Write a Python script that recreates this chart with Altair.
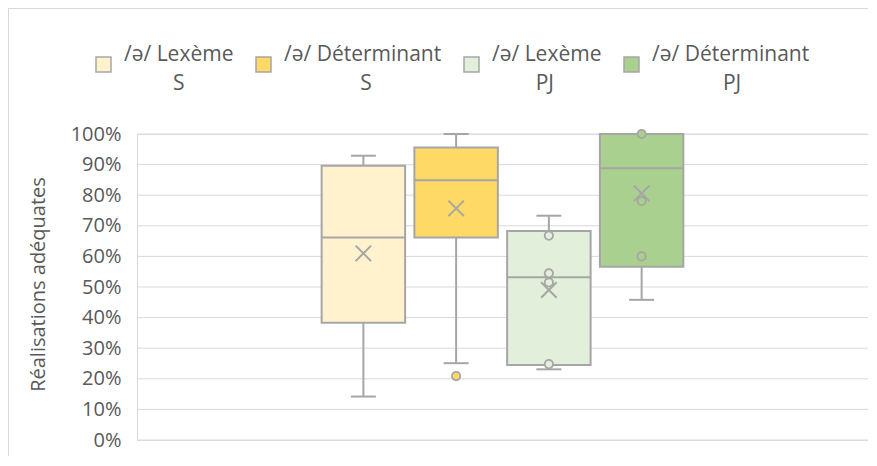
import altair as alt
import pandas as pd

# ---- data ----
series = ["/ə/ Lexème S", "/ə/ Déterminant S", "/ə/ Lexème PJ", "/ə/ Déterminant PJ"]
colors = ["#FFF2CC", "#FFD966", "#E2EFDA", "#A9D08E"]
whisker_low = [0.142, 0.251, 0.231, 0.458]
q1 = [0.383, 0.662, 0.245, 0.566]
median = [0.662, 0.849, 0.532, 0.888]
q3 = [0.896, 0.956, 0.683, 1.0]
whisker_high = [0.929, 1.0, 0.733, 1.0]
mean = [0.610, 0.757, 0.490, 0.806]
point_series = ["/ə/ Déterminant S", "/ə/ Lexème PJ", "/ə/ Lexème PJ", "/ə/ Lexème PJ",
                "/ə/ Lexème PJ", "/ə/ Déterminant PJ", "/ə/ Déterminant PJ", "/ə/ Déterminant PJ"]
point_values = [0.209, 0.668, 0.545, 0.515, 0.248, 1.0, 0.781, 0.600]
y_ticks = [0.0, 0.1, 0.2, 0.3, 0.4, 0.5, 0.6, 0.7, 0.8, 0.9, 1.0]
y_title = "Réalisations adéquates"

boxes = pd.DataFrame({
    "series": series, "lo": whisker_low, "q1": q1, "med": median,
    "q3": q3, "hi": whisker_high, "mean": mean,
})
pts = pd.DataFrame({"series": point_series, "value": point_values})
grid = pd.DataFrame({"tick": y_ticks})

GRAY = "#A6A6A6"
TEXT = "#595959"
GRID = "#D9D9D9"
FONT = "Open Sans"
W, H = 731, 306
PAD = {"left": 129, "top": 126, "right": 0, "bottom": 16}
GROUP = 371  # horizontal extent of the group of four boxes
NBSP = "\u00a0" * 20
ZWSP = "\u200b"

x_enc = alt.X("series:N", sort=series,
              scale=alt.Scale(domain=series, paddingInner=0.1, paddingOuter=0.05,
                              range=[(W - GROUP) / 2, (W + GROUP) / 2]),
              axis=None)
y_scale = alt.Scale(domain=[0, 1], nice=False)
y_axis = alt.Axis(values=y_ticks, format=".0%", grid=False,
                  domain=True, domainColor=GRID, domainWidth=1, ticks=False,
                  labelPadding=16, labelFont=FONT, labelFontSize=20, labelColor=TEXT,
                  title=y_title, titleFont=FONT, titleFontSize=20, titleColor=TEXT,
                  titleFontWeight="normal", titleAngle=270, titleX=-99, titleY=H / 2 - 3,
                  titleAlign="center", titleBaseline="middle")

# two-line legend labels: second line centred under the first with no-break spaces
sp = "lastindexof(datum.label, ' ')"
len2 = f"(length(datum.label) - {sp} - 1)"
label_expr = (
    f"[slice(datum.label, 0, {sp}), "
    f"'{ZWSP}' + slice('{NBSP}', 0, round(({sp} * 0.5 - {len2} * 0.44) / 0.52)) + "
    f"slice(datum.label, {sp} + 1)]"
)

color_enc = alt.Color(
    "series:N",
    scale=alt.Scale(domain=series, range=colors),
    legend=alt.Legend(
        title=None, orient="none", legendX=-44, legendY=-80, direction="horizontal",
        columns=4, columnPadding=19, padding=0, symbolType="square", symbolSize=225,
        symbolStrokeColor=GRAY, symbolStrokeWidth=1.5, symbolOpacity=1,
        labelFont=FONT, labelFontSize=21, labelColor=TEXT, labelOffset=10,
        labelBaseline="bottom", labelLimit=400, labelExpr=label_expr,
    ),
)

base = alt.Chart(boxes)

border_left = base.mark_rule(color=GRID, strokeWidth=1).encode(
    x=alt.value(-128.5), y=alt.value(-PAD["top"]), y2=alt.value(H + PAD["bottom"]))
border_top = base.mark_rule(color=GRID, strokeWidth=1).encode(
    y=alt.value(-PAD["top"] + 0.5), x=alt.value(-PAD["left"]), x2=alt.value(W))

gridlines = alt.Chart(grid).mark_rule(color=GRID, strokeWidth=1).encode(
    y=alt.Y("tick:Q", scale=y_scale, axis=y_axis), x=alt.value(0), x2=alt.value(W))

whisk_low = base.mark_rule(color=GRAY, strokeWidth=2).encode(
    x=x_enc, y=alt.Y("lo:Q", scale=y_scale, axis=y_axis), y2="q1:Q")
whisk_high = base.mark_rule(color=GRAY, strokeWidth=2).encode(
    x=x_enc, y=alt.Y("q3:Q", scale=y_scale, axis=y_axis), y2="hi:Q")
cap_low = base.mark_tick(color=GRAY, size=25, thickness=2, opacity=1).encode(
    x=x_enc, y=alt.Y("lo:Q", scale=y_scale, axis=y_axis))
cap_high = base.mark_tick(color=GRAY, size=25, thickness=2, opacity=1).encode(
    x=x_enc, y=alt.Y("hi:Q", scale=y_scale, axis=y_axis))
box = base.mark_bar(stroke=GRAY, strokeWidth=2, opacity=1).encode(
    x=x_enc, y=alt.Y("q1:Q", scale=y_scale, axis=y_axis), y2="q3:Q", color=color_enc)
med = base.mark_tick(color=GRAY, size=83, thickness=2, opacity=1).encode(
    x=x_enc, y=alt.Y("med:Q", scale=y_scale, axis=y_axis))
mean_mark = base.mark_point(shape="M-1,-1L1,1M-1,1L1,-1", size=240, filled=False,
                            stroke=GRAY, strokeWidth=2, opacity=1).encode(
    x=x_enc, y=alt.Y("mean:Q", scale=y_scale, axis=y_axis))
points = alt.Chart(pts).mark_point(shape="circle", size=70, filled=True, stroke=GRAY,
                                   strokeWidth=1.8, opacity=1).encode(
    x=x_enc, y=alt.Y("value:Q", scale=y_scale, axis=y_axis),
    fill=alt.Fill("series:N", scale=alt.Scale(domain=series, range=colors), legend=None))

chart = alt.layer(
    border_left, border_top, gridlines, whisk_low, whisk_high, cap_low, cap_high, box,
    med, points, mean_mark,
).properties(
    width=W, height=H, padding=PAD,
    autosize=alt.AutoSizeParams(type="none"),
).configure_view(stroke=None).configure(
    font=FONT, style={"guide-label": {"lineHeight": 29.5}},
)

chart.save("out.html", embed_options={"renderer": "svg", "actions": False})
